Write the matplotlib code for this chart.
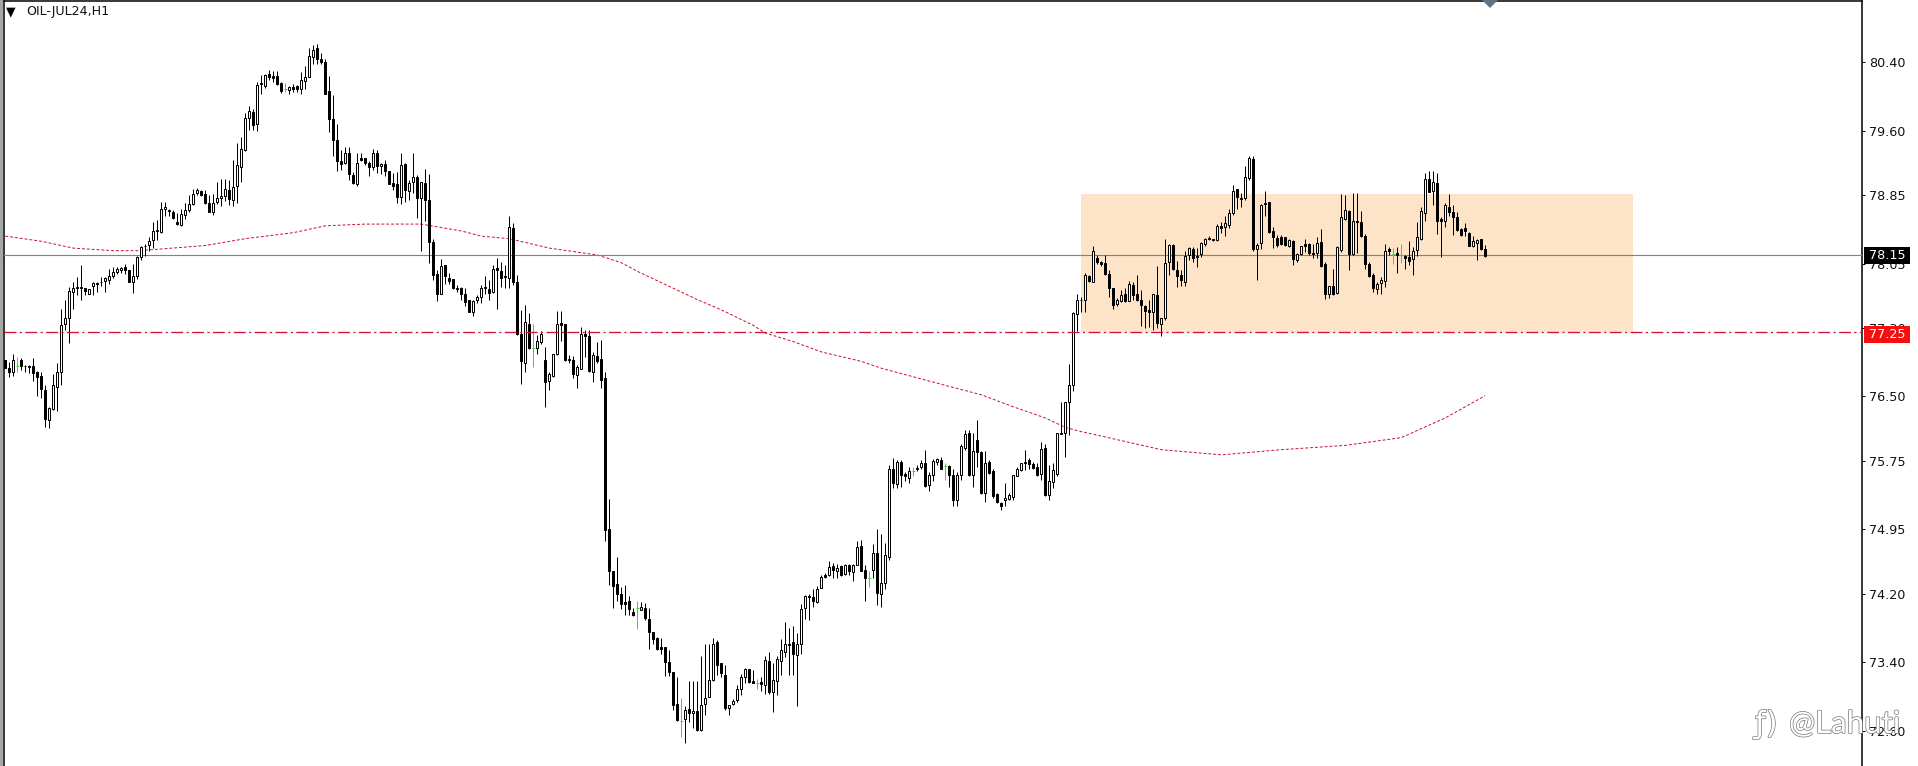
import matplotlib
matplotlib.use("Agg")
import matplotlib.pyplot as plt
import matplotlib.patheffects as pe
from matplotlib.patches import Rectangle, Polygon

# Candle readings: wick high, body top, body bottom, wick low, kind (b=down, w=up, g=doji)
high_a = [76.93,76.90,77.00,76.96,76.95,76.87,76.87,76.95,76.80,76.78,76.63,76.38,76.76,76.89,77.52,77.63,77.78,77.83,77.89,78.03,77.77,77.75,77.83,77.83,77.89,77.89,77.99,78.01,78.01,78.01,78.05,77.98,78.05,78.14,78.25,78.28,78.36,78.54,78.56,78.77,78.77,78.69,78.67,78.64,78.69,78.76,78.85,78.92,78.93,78.91,78.91,78.85,78.86,79.00]
top_a = [76.93,76.83,76.93,76.86,76.93,76.86,76.86,76.85,76.79,76.74,76.58,76.37,76.63,76.79,77.33,77.42,77.73,77.77,77.78,77.78,77.77,77.75,77.82,77.82,77.84,77.88,77.91,77.95,77.99,78.00,78.01,77.98,77.90,78.13,78.24,78.26,78.31,78.43,78.44,78.69,78.71,78.68,78.65,78.54,78.63,78.68,78.75,78.86,78.91,78.89,78.86,78.76,78.76,78.82]
bot_a = [76.83,76.78,76.79,76.86,76.86,76.85,76.84,76.77,76.73,76.59,76.24,76.23,76.36,76.61,76.79,77.34,77.41,77.72,77.76,77.77,77.73,77.70,77.79,77.81,77.83,77.85,77.86,77.90,77.95,77.98,77.97,77.83,77.84,77.91,78.13,78.25,78.27,78.32,78.43,78.42,78.69,78.66,78.58,78.51,78.50,78.62,78.68,78.74,78.87,78.85,78.76,78.65,78.65,78.77]
low_a = [76.83,76.73,76.74,76.79,76.81,76.79,76.77,76.68,76.50,76.48,76.14,76.13,76.34,76.33,76.63,77.27,77.12,77.52,77.68,77.63,77.68,77.69,77.68,77.72,77.79,77.72,77.81,77.88,77.93,77.94,77.93,77.83,77.71,77.87,78.09,78.14,78.20,78.23,78.32,78.41,78.60,78.60,78.57,78.50,78.49,78.57,78.65,78.73,78.85,78.84,78.75,78.65,78.62,78.74]
kind_a = "bbwgbbwbbb" "bwwwwwwwwb" "bwwwbwwwww" "bbwwwbwwww" "wbbbwwwwwb" "bbww"

high_b = [79.03,79.03,79.02,79.26,79.45,79.52,79.80,79.89,79.85,80.17,80.25,80.26,80.31,80.29,80.29,80.17,80.15,80.12,80.14,80.13,80.28,80.35,80.56,80.60,80.61,80.51,80.43,80.24,80.01,79.68,79.37,79.41,79.41,79.12,79.34,79.34,79.28,79.24,79.39,79.37,79.22,79.26,79.13,79.10,79.12,79.34,79.22,79.02,79.34,79.08]
top_b = [78.84,78.92,78.91,78.94,79.20,79.38,79.75,79.83,79.82,80.13,80.16,80.25,80.26,80.24,80.24,80.16,80.08,80.11,80.11,80.12,80.19,80.22,80.47,80.54,80.56,80.44,80.40,80.06,79.74,79.49,79.24,79.34,79.34,79.08,79.22,79.28,79.28,79.22,79.34,79.34,79.21,79.21,79.13,78.99,78.98,79.20,79.21,78.99,79.06,79.06]
bot_b = [78.81,78.84,78.80,78.79,78.95,79.18,79.37,79.75,79.67,79.68,80.14,80.12,80.22,80.21,80.14,80.06,80.08,80.07,80.09,80.09,80.08,80.18,80.23,80.46,80.44,80.40,80.03,79.73,79.49,79.25,79.21,79.22,79.09,78.99,78.98,79.26,79.22,79.18,79.17,79.19,79.19,79.13,78.98,78.95,78.83,78.83,78.91,78.90,79.00,78.81]
low_b = [78.72,78.78,78.73,78.72,78.76,79.00,79.36,79.61,79.61,79.59,80.03,80.10,80.19,80.17,80.13,80.04,80.05,80.03,80.05,80.05,80.03,80.08,80.23,80.38,80.38,80.38,80.03,79.58,79.30,79.13,79.14,79.21,79.02,78.98,78.95,79.24,79.20,79.07,79.14,79.10,79.09,79.07,78.98,78.91,78.76,78.75,78.77,78.79,78.87,78.58]
kind_b = "wwbwwwwwbw" "wwbbbbgwbb" "wwwwbbbbbb" "bwbbwbbbwb" "wbbbbwbwwb"

high_c = [79.00,79.15,79.09,78.34,77.97,78.10,78.03,77.94,77.87,77.80,77.78,77.76,77.63,77.63,77.68,77.80,77.91,77.86,78.03,78.11,78.07,78.03,78.60,78.52,77.92,77.51,77.57,77.47,77.35,77.22,77.26,77.08,76.78,77.00,77.50,77.50,77.35,76.98,76.97,76.87,77.31,77.28,77.28,77.02,77.14,77.16]
top_c = [79.00,78.99,78.79,78.30,77.93,78.02,78.03,77.88,77.87,77.77,77.77,77.70,77.63,77.61,77.66,77.76,77.78,77.75,77.99,78.00,77.96,77.91,78.48,78.47,77.84,77.23,77.37,77.35,77.07,77.15,77.23,76.93,76.76,77.00,77.35,77.36,77.34,76.94,76.93,76.84,77.23,77.23,77.20,76.98,76.97,76.94]
bot_c = [78.82,78.79,78.30,77.92,77.70,77.70,77.90,77.85,77.77,77.75,77.70,77.60,77.49,77.49,77.62,77.66,77.76,77.71,77.72,77.97,77.88,77.89,77.88,77.83,77.23,76.91,76.89,77.06,77.07,77.06,77.13,76.67,76.68,76.74,77.00,77.33,76.93,76.93,76.76,76.75,76.82,77.21,76.80,76.79,76.91,76.69]
low_c = [78.20,78.55,78.06,77.86,77.61,77.70,77.81,77.81,77.75,77.72,77.63,77.55,77.49,77.44,77.59,77.59,77.70,77.63,77.71,77.52,77.78,77.76,77.76,77.80,77.22,76.65,76.79,77.05,76.84,77.00,77.11,76.38,76.57,76.73,76.98,77.15,76.91,76.89,76.71,76.60,76.82,76.96,76.79,76.67,76.89,76.60]
kind_c = "wbbbbwbbbb" "bbbwwwbbwb" "bbwbbbwbgw" "wbwwwbbbbw" "wbbwbb"

high_d = [76.79,75.31,74.47,74.63,74.28,74.30,74.17,74.03,74.11,74.10,74.09,74.03,73.76,73.70,73.68,73.58,73.54,73.29,73.23,72.98,72.89,73.18,73.18,73.18,73.47,73.62,73.62,73.68,73.66,73.39,73.37,72.90,72.97,73.14,73.26,73.33,73.32,73.31,73.21,73.23,73.47,73.52,73.39,73.47,73.67,73.87,73.80,73.83,73.74,74.08,74.19,74.20,74.26,74.29,74.42,74.44,74.58,74.56,74.55,74.53,74.55,74.55,74.55,74.82,74.83,74.53,74.47,74.78,74.96,74.90,74.79,75.70,75.78,75.76,75.76,75.62,75.68,75.68,75.70,75.76,75.88,75.62,75.77,75.78,75.80,75.72,75.70,75.66,75.62]
top_d = [76.71,74.95,74.46,74.31,74.20,74.10,74.11,73.99,74.03,74.04,74.03,73.91,73.75,73.68,73.58,73.58,73.40,73.29,72.91,72.72,72.85,72.86,72.83,72.83,72.90,72.99,73.19,73.62,73.64,73.39,73.25,72.90,72.95,73.09,73.23,73.32,73.32,73.18,73.16,73.17,73.43,73.42,73.19,73.44,73.54,73.61,73.62,73.64,73.61,74.02,74.17,74.17,74.16,74.25,74.40,74.42,74.51,74.52,74.50,74.52,74.53,74.53,74.53,74.74,74.76,74.48,74.38,74.68,74.67,74.32,74.65,75.66,75.65,75.74,75.74,75.60,75.63,75.63,75.67,75.72,75.73,75.59,75.75,75.77,75.76,75.69,75.69,75.59,75.58]
bot_d = [74.94,74.47,74.29,74.20,74.08,74.08,74.02,73.95,74.03,74.01,73.92,73.75,73.67,73.56,73.56,73.40,73.29,72.90,72.73,72.72,72.74,72.81,72.81,72.61,72.61,72.91,73.00,73.20,73.37,73.28,72.87,72.87,72.91,72.96,73.09,73.23,73.17,73.16,73.16,73.15,73.14,73.06,73.06,73.18,73.42,73.52,73.60,73.50,73.49,73.61,74.03,74.16,74.11,74.10,74.27,74.40,74.42,74.48,74.47,74.42,74.43,74.46,74.45,74.53,74.47,74.38,74.38,74.48,74.21,74.20,74.32,74.63,75.49,75.48,75.58,75.57,75.55,75.63,75.66,75.68,75.46,75.47,75.59,75.74,75.66,75.69,75.59,75.29,75.29]
low_d = [74.81,74.30,74.03,74.11,74.02,73.95,73.95,73.94,73.79,74.01,73.89,73.56,73.62,73.54,73.50,73.24,73.24,72.84,72.72,72.53,72.46,72.71,72.63,72.60,72.60,72.79,73.00,73.18,73.25,73.23,72.84,72.79,72.90,72.94,73.02,73.16,73.16,73.16,73.09,73.07,73.03,73.03,72.82,73.02,73.25,73.46,73.25,73.25,72.89,73.50,73.91,73.89,74.05,74.09,74.27,74.38,74.41,74.38,74.38,74.41,74.42,74.42,74.35,74.53,74.46,74.12,74.28,74.38,74.07,74.04,74.26,74.59,75.43,75.43,75.45,75.51,75.49,75.57,75.63,75.66,75.45,75.40,75.51,75.70,75.65,75.53,75.45,75.22,75.22]
kind_d = "bbbbbbbbgw" "bbbbbbbbbg" "wbwbwwwwbb" "bwwwwwbbgb" "wbwwwwwbww" "wbbwwbwbwb" "wbwwbbgwbw" "wwbwbbwgbw" "bwwwbgbbw"

high_e = [75.95,76.11,76.11,76.07,76.23,75.86,75.86,75.76,75.66,75.37,75.27,75.49,75.37,75.58,75.68,75.73,75.88,75.78,75.74,75.72,75.97,75.95,75.70,75.72,76.07,76.43,76.44,76.88,77.48,77.70,77.66]
top_e = [75.92,76.06,76.07,75.87,75.99,75.85,75.72,75.74,75.63,75.36,75.26,75.32,75.35,75.58,75.66,75.72,75.74,75.76,75.71,75.68,75.89,75.90,75.51,75.64,76.07,76.08,76.44,76.63,77.47,77.63,77.63]
bot_e = [75.58,75.90,75.58,75.58,75.85,75.37,75.37,75.61,75.34,75.27,75.22,75.29,75.30,75.33,75.57,75.64,75.72,75.71,75.67,75.58,75.60,75.35,75.35,75.50,75.60,76.06,76.07,76.43,76.63,77.46,77.62]
low_e = [75.53,75.88,75.57,75.44,75.68,75.36,75.27,75.60,75.32,75.26,75.18,75.22,75.29,75.29,75.57,75.63,75.64,75.66,75.65,75.57,75.53,75.34,75.29,75.43,75.57,76.06,75.80,76.05,76.56,77.26,77.49]
kind_e = "wwbwbbwbbb" "bwwwwwbbbb" "wbwwwwwwww" "w"

high_f = [77.94,77.92,78.25,78.15,78.08,78.15,77.97,77.77,77.65,77.74,77.76,77.85,77.84,77.92,77.74,77.57,77.63,77.69,78.02,77.42,78.34,78.28,78.28,78.08,77.97,78.20,78.24,78.24,78.23,78.30,78.35,78.37,78.34,78.51,78.54,78.60,78.69,78.97,78.92,78.87,79.19,79.30,79.30,78.29,78.75,78.89,78.77,78.48,78.38,78.38,78.36,78.34,78.33,78.17,78.25,78.34,78.29,78.28,78.36,78.45,78.07,77.79,77.99,78.25,78.86,78.85,78.67,78.87,78.87,78.66,78.40,78.07,77.94,77.84,77.89,78.28,78.24,78.23,78.24,78.28,78.15,78.31,78.24,78.54,78.71,79.10,79.13,79.13,79.10,78.59,78.76,78.86,78.73,78.65,78.46,78.52,78.42,78.37,78.34,78.34,78.27]
top_f = [77.92,77.90,78.20,78.12,78.07,78.06,77.93,77.76,77.63,77.68,77.70,77.81,77.80,77.70,77.63,77.56,77.51,77.69,77.68,77.42,78.06,78.27,78.27,77.98,77.92,78.14,78.23,78.22,78.14,78.29,78.34,78.35,78.34,78.49,78.49,78.52,78.64,78.90,78.92,78.82,79.06,79.28,79.27,78.27,78.73,78.76,78.77,78.43,78.35,78.36,78.36,78.33,78.31,78.16,78.25,78.28,78.28,78.17,78.29,78.30,78.05,77.79,77.79,78.24,78.59,78.67,78.66,78.55,78.55,78.54,78.37,78.05,77.92,77.81,77.86,78.20,78.22,78.16,78.17,78.15,78.14,78.13,78.20,78.36,78.66,79.03,79.04,79.00,78.99,78.57,78.73,78.71,78.65,78.59,78.45,78.47,78.41,78.31,78.33,78.34,78.22]
bot_f = [77.63,77.85,77.84,78.07,78.05,77.93,77.77,77.57,77.58,77.61,77.61,77.61,77.68,77.63,77.57,77.50,77.49,77.49,77.36,77.35,77.42,78.07,77.99,77.90,77.86,77.84,78.15,78.12,78.13,78.16,78.28,78.34,78.32,78.33,78.47,78.48,78.50,78.64,78.83,78.80,78.81,79.05,78.22,78.22,78.29,78.74,78.42,78.36,78.27,78.28,78.27,78.25,78.10,78.09,78.16,78.26,78.17,78.16,78.17,78.02,77.69,77.69,77.70,77.71,78.21,78.57,78.16,78.16,78.53,78.37,78.05,77.90,77.76,77.75,77.82,77.85,78.20,78.16,78.15,78.15,78.11,78.08,78.10,78.21,78.34,78.64,78.88,78.90,78.55,78.55,78.55,78.65,78.59,78.44,78.38,78.43,78.25,78.26,78.29,78.22,78.14]
low_f = [77.49,77.83,77.83,78.05,78.02,77.92,77.66,77.52,77.56,77.60,77.60,77.61,77.62,77.61,77.32,77.30,77.31,77.28,77.30,77.20,77.39,77.92,77.97,77.78,77.79,77.79,78.09,78.07,78.01,78.13,78.25,78.33,78.31,78.31,78.41,78.37,78.47,78.62,78.69,78.71,78.79,79.02,78.20,77.86,78.22,78.60,78.41,78.23,78.24,78.27,78.25,78.24,78.03,78.07,78.15,78.19,78.15,78.11,78.12,78.01,77.64,77.65,77.68,77.70,78.19,78.56,77.97,78.15,78.17,78.36,77.99,77.89,77.72,77.70,77.70,77.78,78.15,78.05,77.94,78.06,77.99,78.03,77.92,78.14,78.33,78.55,78.88,78.73,78.40,78.13,78.48,78.60,78.38,78.43,78.37,78.37,78.25,78.24,78.09,78.21,78.13]
kind_f = "wbwbbbbbww" "bwbbbbbwbw" "wwbbbwwbbw" "wbbwbwwwbb" "wwbwwwbbbb" "bwbwwbbbwb" "bwbwwwbwbb" "bbbwwwbgbg" "bbwwwwbwbb" "wbbbbbbwwb" "b"

highs = high_a + high_b + high_c + high_d + high_e + high_f
tops = top_a + top_b + top_c + top_d + top_e + top_f
bots = bot_a + bot_b + bot_c + bot_d + bot_e + bot_f
lows = low_a + low_b + low_c + low_d + low_e + low_f
kinds = kind_a + kind_b + kind_c + kind_d + kind_e + kind_f

# Moving average, read at sampled candle numbers
ma_index = [0,9,17,27,33,39,50,60,72,80,90,104,114,119,126,136,148,154,158,173,179,187,190,197,204,214,219,227,235,244,252,260,265,269,272,289,304,319,335,349,360,370]
ma_value = [78.37,78.31,78.23,78.20,78.20,78.22,78.26,78.34,78.41,78.49,78.51,78.51,78.43,78.37,78.34,78.23,78.15,78.06,77.96,77.63,77.51,77.33,77.24,77.14,77.02,76.91,76.83,76.73,76.63,76.52,76.38,76.25,76.14,76.09,76.06,75.88,75.82,75.88,75.93,76.02,76.25,76.51]

tick_values = [80.40,79.60,78.85,78.05,77.30,76.50,75.75,74.95,74.20,73.40,72.60]
tick_labels = ["80.40","79.60","78.85","78.05","77.30","76.50","75.75","74.95","74.20","73.40","72.60"]
bid_price = 78.15
level_price = 77.25
zone_top = 78.86
zone_start, zone_end = 269, 407
title = "OIL-JUL24,H1"
watermark = "@Lahuti"

W, H = 1918, 766
fig = plt.figure(figsize=(W/100, H/100), dpi=100, facecolor="white")
ax = fig.add_axes([4/W, 0, 1858/W, 765/H])
ax.set_xlim(-0.325, 464.2)
ax.set_ylim(72.192, 81.111)
px = 0.72

for name in ("left", "top", "right"):
    ax.spines[name].set_linewidth(1.1)
    ax.spines[name].set_color("black")
ax.spines["bottom"].set_visible(False)
ax.set_xticks([])
ax.yaxis.tick_right()
ax.set_yticks(tick_values)
ax.set_yticklabels(tick_labels)
ax.tick_params(axis="y", length=2.2, width=px, pad=2.8, labelsize=9.2, labelcolor="#111111")

ax.add_patch(Rectangle((zone_start, level_price), zone_end - zone_start, zone_top - level_price,
                       facecolor="#FDE4C8", edgecolor="none", zorder=1))
ax.plot(ma_index, ma_value, color="#C8102E", lw=0.7, dashes=(3.0, 2.0), zorder=2)
ax.axhline(bid_price, color="#7B838A", lw=0.8, zorder=3)

GREEN = "#35D93A"
xs = list(range(len(highs)))
wick_colors = [GREEN if k == "g" else "black" for k in kinds]
ax.vlines(xs, lows, highs, colors=wick_colors, lw=px, zorder=4)
for x, t, b, k in zip(xs, tops, bots, kinds):
    if k == "g":
        ax.hlines(t, x - 0.4, x + 0.4, colors=GREEN, lw=px, zorder=4.1)
    else:
        ax.add_patch(Rectangle((x - 0.25, b), 0.5, t - b, facecolor="white" if k == "w" else "black",
                               edgecolor="black", lw=px, zorder=4.2))

ax.axhline(level_price, color="#D0123A", lw=0.95, dashes=(9, 2.6, 1.6, 2.6), zorder=5)

# Price badges on the scale
yt = ax.get_yaxis_transform()
ax.add_patch(Rectangle((1.0011, 78.04), 0.0247, 0.20, transform=yt, facecolor="black", edgecolor="none",
                       clip_on=False, zorder=6))
ax.add_patch(Rectangle((1.0011, 77.12), 0.0247, 0.20, transform=yt, facecolor="#F50F10", edgecolor="none",
                       clip_on=False, zorder=6))
ax.text(1.0134, 78.14, "78.15", transform=yt, color="white", fontsize=9.2, ha="center", va="center", zorder=7)
ax.text(1.0134, 77.22, "77.25", transform=yt, color="white", fontsize=9.2, ha="center", va="center", zorder=7)

# Frame bits outside the plot
fig.add_artist(Rectangle((0, 0), 2.5/W, 1, transform=fig.transFigure, facecolor="#a6a6a6", edgecolor="none"))
fig.add_artist(Polygon([(1482/W, 1), (1498/W, 1), (1490/W, 1 - 8/H)], transform=fig.transFigure,
                       facecolor="#5F7486", edgecolor="none"))
fig.text(6/W, 1 - 12/H, "\u25BC", fontsize=9, color="black", va="center", ha="left")
fig.text(26/W, 1 - 12/H, title, fontsize=9.1, color="#111111", va="center", ha="left")

stroke = [pe.withStroke(linewidth=1.0, foreground="#777777")]
fig.text(1789/W, 1 - 733/H, watermark, fontsize=22.5, family="Lato", color="white", va="baseline",
         ha="left", path_effects=stroke)
fig.text(1755/W, 1 - 733/H, "\u0192)", fontsize=22, family="DejaVu Sans", color="white", va="baseline",
         ha="left", path_effects=stroke)

fig.savefig("out.png", dpi=100)
